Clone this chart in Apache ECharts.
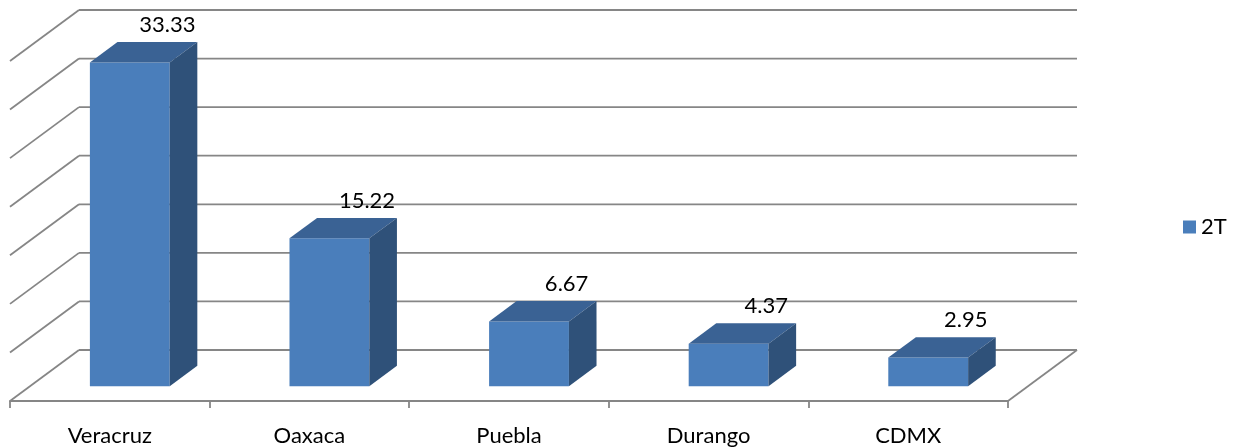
<!DOCTYPE html>
<html>
<head>
<meta charset="utf-8">
<script src="https://cdn.jsdelivr.net/npm/echarts@6/dist/echarts.min.js"></script>
<style>
  html, body { margin: 0; padding: 0; background: #fff; }
  #chart { width: 1236px; height: 447px; }
</style>
</head>
<body>
<div id="chart"></div>
<script>
var categories = ['Veracruz', 'Oaxaca', 'Puebla', 'Durango', 'CDMX'];
var values2T = [33.33, 15.22, 6.67, 4.37, 2.95];
var gridTicks = [0, 5, 10, 15, 20, 25, 30, 35];

// depth of the 3d box (front plane -> back wall), in pixels
var DX = 69, DY = -51;
// bar sits between these fractions of the depth
var BAR_FRONT = 0.29, BAR_BACK = 0.69;
var lineColor = '#868686';
var font = 'Lato, "Liberation Sans", Arial, sans-serif';

var chart = echarts.init(document.getElementById('chart'));

function renderWalls(params, api) {
    var v = api.value(1);
    var cs = params.coordSys;
    var x0 = cs.x, x1 = cs.x + cs.width;
    var y = api.coord([0, v])[1];
    var style = { stroke: lineColor, lineWidth: 1.8 };
    var children = [
        { type: 'line', shape: { x1: x0 + DX, y1: y + DY, x2: x1 + DX, y2: y + DY }, style: style },
        { type: 'line', shape: { x1: x0, y1: y, x2: x0 + DX, y2: y + DY }, style: style }
    ];
    if (v === 0) {
        children.push({ type: 'line', shape: { x1: x1, y1: y, x2: x1 + DX, y2: y + DY }, style: style });
    }
    return { type: 'group', children: children };
}

function renderBar(params, api) {
    var idx = api.value(0);
    var val = api.value(1);
    var base = api.coord([idx, 0]);
    var top = api.coord([idx, val]);
    var bw = api.size([1, 0])[0] * 0.4;
    var fx = DX * BAR_FRONT, fy = DY * BAR_FRONT;
    var bx = DX * (BAR_BACK - BAR_FRONT), by = DY * (BAR_BACK - BAR_FRONT);
    var l = base[0] - bw / 2 + fx, r = base[0] + bw / 2 + fx;
    var b = base[1] + fy, t = top[1] + fy;
    return {
        type: 'group',
        children: [
            { type: 'rect', shape: { x: l, y: t, width: r - l, height: b - t },
              style: { fill: '#4a7ebb' } },
            { type: 'polygon', shape: { points: [[l, t], [l + bx, t + by], [r + bx, t + by], [r, t]] },
              style: { fill: '#3a6294' } },
            { type: 'polygon', shape: { points: [[r, t], [r + bx, t + by], [r + bx, b + by], [r, b]] },
              style: { fill: '#2f5179' } },
            { type: 'text', x: base[0] + fx + bx + 10, y: t + by - 17,
              style: { text: val.toFixed(2), fill: '#000', font: '22px ' + font,
                       align: 'center', verticalAlign: 'middle' } }
        ]
    };
}

var option = {
    animation: false,
    backgroundColor: '#fff',
    grid: { left: 10, right: 228, top: 61, bottom: 45 },
    legend: {
        data: ['2T'],
        orient: 'vertical',
        left: 1178, top: 211,
        icon: 'rect', itemWidth: 13, itemHeight: 13, itemGap: 6,
        textStyle: { fontSize: 22, fontFamily: font, color: '#000' }
    },
    xAxis: {
        type: 'category',
        data: categories,
        axisLine: { show: true, lineStyle: { color: lineColor, width: 1.8 } },
        axisTick: { show: true, length: 7, lineStyle: { color: lineColor, width: 1.8 } },
        axisLabel: { margin: 24, fontSize: 22, fontFamily: font, color: '#000' },
        splitLine: { show: false }
    },
    yAxis: {
        type: 'value',
        min: 0, max: 35, interval: 5,
        show: false,
        splitLine: { show: false }
    },
    series: [
        {
            name: 'walls',
            type: 'custom',
            renderItem: renderWalls,
            data: gridTicks.map(function (v) { return [0, v]; }),
            z: 1,
            silent: true
        },
        {
            name: '2T',
            type: 'custom',
            renderItem: renderBar,
            itemStyle: { color: '#4a7ebb' },
            data: values2T.map(function (v, i) { return [i, v]; }),
            z: 2
        }
    ]
};

chart.setOption(option);
</script>
</body>
</html>
